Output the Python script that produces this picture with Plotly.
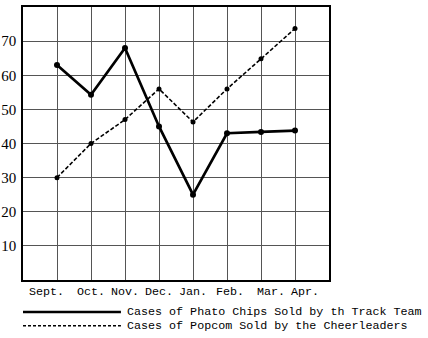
import plotly.graph_objects as go

months = ["Sept.", "Oct.", "Nov.", "Dec.", "Jan.", "Feb.", "Mar.", "Apr."]
chips = [63, 54.3, 68, 45, 25, 43, 43.4, 43.8]
popcorn = [30, 40, 47, 56, 46.3, 56, 64.8, 73.7]
y_ticks = [10, 20, 30, 40, 50, 60, 70]
legend_names = ["Cases of Phato Chips Sold by th Track Team",
                "Cases of Popcom Sold by the Cheerleaders"]

x = list(range(len(months)))

# label nudging (style only), pixels
label_shift = {"Sept.": -11, "Feb.": 3, "Mar.": 10, "Apr.": 10}

fig = go.Figure()
fig.add_trace(go.Scatter(x=x, y=chips, mode="lines+markers",
                         line=dict(color="black", width=2.7),
                         marker=dict(color="black", size=6),
                         showlegend=False))
fig.add_trace(go.Scatter(x=x, y=popcorn, mode="lines+markers",
                         line=dict(color="black", width=1.6, dash="4px,2px"),
                         marker=dict(color="black", size=5),
                         showlegend=False))

fig.update_xaxes(range=[-1, len(months)], tickvals=x, showticklabels=False,
                 showgrid=True, gridcolor="#555", gridwidth=1,
                 showline=True, linecolor="black", linewidth=1.5, mirror=True,
                 ticks="", zeroline=False, automargin=False)
fig.update_yaxes(range=[0, 80], tickvals=y_ticks + [80], ticktext=[str(v) for v in y_ticks] + [""],
                 showgrid=True, gridcolor="#555", gridwidth=1,
                 showline=True, linecolor="black", linewidth=1.5, mirror=True,
                 ticks="", zeroline=False, ticklabelstandoff=2, automargin=False,
                 tickfont=dict(family="Liberation Serif", size=15, color="black"))

for xi, m in zip(x, months):
    fig.add_annotation(x=xi, xref="x", y=0, yref="paper", text=m, showarrow=False,
                       xanchor="center", yanchor="top", yshift=-4,
                       xshift=label_shift.get(m, 0), borderpad=0,
                       font=dict(family="Liberation Mono", size=11.7, color="black"))

# manual legend
legend_y = [-0.117, -0.168]
dashes = ["solid", "3px,2px"]
widths = [2.6, 1.5]
for i, name in enumerate(legend_names):
    fig.add_shape(type="line", xref="paper", yref="paper",
                  x0=0.0, x1=0.32, y0=legend_y[i], y1=legend_y[i],
                  line=dict(color="black", width=widths[i], dash=dashes[i]))
    fig.add_annotation(xref="paper", yref="paper", x=0.336, y=legend_y[i],
                       text=name, showarrow=False, xanchor="left", yanchor="middle",
                       borderpad=0, font=dict(family="Liberation Mono", size=11.7, color="black"))

fig.update_layout(width=428, height=338, margin=dict(l=23, r=99, t=7, b=58),
                  plot_bgcolor="white", paper_bgcolor="white")
fig.write_html("out.html")
